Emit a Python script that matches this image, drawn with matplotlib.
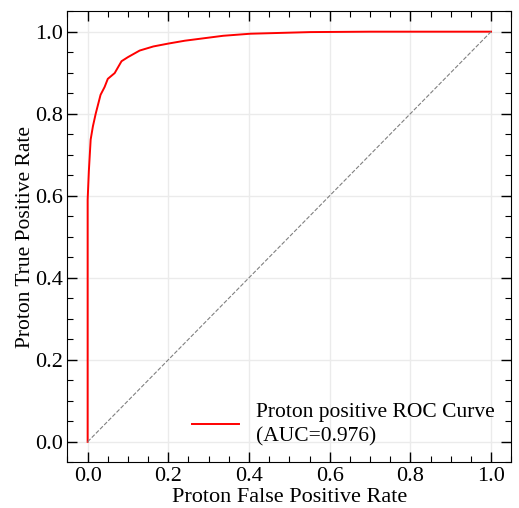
import matplotlib
matplotlib.use("Agg")
import matplotlib.pyplot as plt
from matplotlib.ticker import MultipleLocator

# ROC curve points
fpr = [0.0, 0.0, 0.0, 0.003, 0.0075, 0.013, 0.02, 0.032, 0.042, 0.05, 0.067,
       0.084, 0.1, 0.129, 0.163, 0.2, 0.241, 0.336, 0.403, 0.552, 0.7, 1.0]
tpr = [0.0, 0.57, 0.59, 0.66, 0.737, 0.769, 0.80, 0.846, 0.865, 0.885, 0.899,
       0.928, 0.938, 0.954, 0.964, 0.971, 0.978, 0.99, 0.995, 0.999, 1.0, 1.0]
diag = [0.0, 1.0]
auc = 0.976

plt.rcParams["font.family"] = ["Liberation Serif", "DejaVu Serif"]

fig, ax = plt.subplots(figsize=(5.19, 5.08), dpi=100)
fig.subplots_adjust(left=0.13, right=0.985, top=0.978, bottom=0.09)

ax.plot(fpr, tpr, color="red", lw=1.4,
        label=f"Proton positive ROC Curve\n(AUC={auc:.3f})")
ax.plot(diag, diag, color="gray", lw=0.8, ls="--")

ax.set_xlim(-0.05, 1.05)
ax.set_ylim(-0.05, 1.05)
ax.xaxis.set_major_locator(MultipleLocator(0.2))
ax.yaxis.set_major_locator(MultipleLocator(0.2))
ax.xaxis.set_minor_locator(MultipleLocator(0.05))
ax.yaxis.set_minor_locator(MultipleLocator(0.05))
ax.tick_params(which="both", direction="in", top=True, right=True, labelsize=16)
ax.tick_params(which="major", length=7, width=1)
ax.tick_params(which="minor", length=4, width=0.8)
ax.grid(True, color="#ebebeb", lw=1)
ax.set_axisbelow(True)

ax.set_xlabel("Proton False Positive Rate", fontsize=16, labelpad=1)
ax.set_ylabel("Proton True Positive Rate", fontsize=15.5, labelpad=0)
leg = ax.legend(loc="lower right", frameon=False, fontsize=15.5,
                handlelength=2.2, borderaxespad=0.35)
for t in leg.get_texts():
    t.set_linespacing(1.35)

fig.savefig("out.png", dpi=100)
